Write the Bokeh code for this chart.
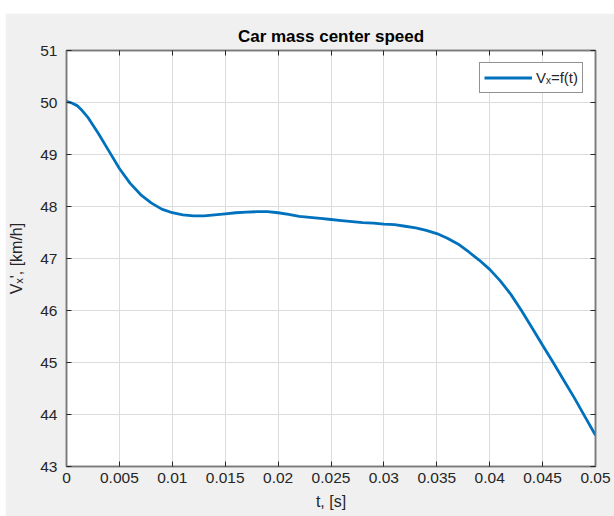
from bokeh.plotting import figure
from bokeh.models import Range1d, LinearAxis, FixedTicker, CustomJSTickFormatter, Legend, LegendItem, Spacer
from bokeh.layouts import column, row
from bokeh.embed import file_html
from bokeh.resources import INLINE

# Data
t_s = [0, 0.0005, 0.001, 0.0015, 0.002, 0.003, 0.004, 0.005, 0.006, 0.007, 0.008, 0.009,
       0.010, 0.011, 0.012, 0.013, 0.014, 0.015, 0.016, 0.017, 0.018, 0.019, 0.020,
       0.021, 0.022, 0.023, 0.024, 0.025, 0.026, 0.027, 0.028, 0.029, 0.030, 0.031,
       0.032, 0.033, 0.034, 0.035, 0.036, 0.037, 0.038, 0.039, 0.040, 0.041, 0.042,
       0.043, 0.044, 0.045, 0.046, 0.047, 0.048, 0.049, 0.050]
vx_kmh = [50.02, 49.99, 49.94, 49.84, 49.72, 49.41, 49.07, 48.73, 48.45, 48.23, 48.07, 47.95,
          47.88, 47.84, 47.82, 47.82, 47.84, 47.86, 47.88, 47.89, 47.90, 47.90, 47.88,
          47.85, 47.81, 47.79, 47.77, 47.75, 47.73, 47.71, 47.69, 47.68, 47.66, 47.65,
          47.62, 47.59, 47.54, 47.48, 47.39, 47.28, 47.13, 46.97, 46.79, 46.57, 46.31,
          46.00, 45.67, 45.33, 45.00, 44.66, 44.32, 43.96, 43.60]
x_ticks = [0, 0.005, 0.01, 0.015, 0.02, 0.025, 0.03, 0.035, 0.04, 0.045, 0.05]
y_ticks = [43, 44, 45, 46, 47, 48, 49, 50, 51]

FONT = "Liberation Sans"
BG = "#f0f0f0"
AX = "#7a7a7a"
TXT = "#262626"

p = figure(width=609, height=503, output_backend="svg", toolbar_location=None,
           x_range=Range1d(0, 0.05), y_range=Range1d(43, 51),
           background_fill_color="white", border_fill_color=BG,
           min_border_left=61, min_border_right=19, min_border_top=37, min_border_bottom=50,
           title="Car mass center speed")

p.title.align = "center"
p.title.text_font = FONT
p.title.text_font_size = "17px"
p.title.text_font_style = "bold"
p.title.text_color = "#000000"
p.title.standoff = 9

p.outline_line_color = AX
p.outline_line_width = 1.5

fmt = CustomJSTickFormatter(code="return tick.toFixed(3).replace(/0+$/,'').replace(/\\.$/,'');")

for ax in p.xaxis:
    ax.ticker = FixedTicker(ticks=x_ticks)
    ax.formatter = fmt
for ax in p.yaxis:
    ax.ticker = FixedTicker(ticks=y_ticks)

for ax in list(p.xaxis) + list(p.yaxis):
    ax.axis_line_color = AX
    ax.axis_line_width = 1.5
    ax.major_tick_line_color = TXT
    ax.major_tick_in = 5
    ax.major_tick_out = 0
    ax.minor_tick_line_color = None
    ax.major_label_text_font = FONT
    ax.major_label_text_font_size = "15.5px"
    ax.major_label_text_color = TXT
    ax.axis_label_text_font = FONT
    ax.axis_label_text_font_size = "16px"
    ax.axis_label_text_font_style = "normal"
    ax.axis_label_text_color = TXT

p.xaxis.axis_label = "t, [s]"
p.xaxis.major_label_standoff = 6
p.xaxis.axis_label_standoff = 7
p.yaxis.axis_label = "Vₓ', [km/h]"
p.yaxis.major_label_standoff = 9
p.yaxis.axis_label_standoff = 12

# box-style ticks on top and right
blank = CustomJSTickFormatter(code="return '';")
top = LinearAxis(ticker=FixedTicker(ticks=x_ticks), formatter=blank)
right = LinearAxis(ticker=FixedTicker(ticks=y_ticks), formatter=blank)
for ax in (top, right):
    ax.axis_line_color = AX
    ax.axis_line_width = 1.5
    ax.major_tick_line_color = TXT
    ax.major_tick_in = 5
    ax.major_tick_out = 0
    ax.minor_tick_line_color = None
    ax.major_label_text_font_size = "0px"
    ax.major_label_standoff = 0
p.add_layout(top, "above")
p.add_layout(right, "right")

p.grid.grid_line_color = "#dcdcdc"
p.grid.grid_line_width = 1
p.xgrid.ticker = FixedTicker(ticks=x_ticks)
p.ygrid.ticker = FixedTicker(ticks=y_ticks)

r = p.line(t_s, vx_kmh, line_color="#0072BD", line_width=2.8)

legend = Legend(items=[LegendItem(label="Vₓ=f(t)", renderers=[r])],
                location="top_right")
legend.margin = 12
legend.padding = 4
legend.spacing = 0
legend.glyph_width = 48
legend.glyph_height = 21
legend.label_standoff = 4
legend.label_text_font = FONT
legend.label_text_font_size = "15px"
legend.label_text_color = TXT
legend.border_line_color = "#262626"
legend.border_line_width = 1
legend.background_fill_color = "white"
legend.background_fill_alpha = 1
p.add_layout(legend)

layout = column(Spacer(width=614, height=13), row(Spacer(width=5, height=503), p))

open("out.html", "w").write(file_html(layout, INLINE))
